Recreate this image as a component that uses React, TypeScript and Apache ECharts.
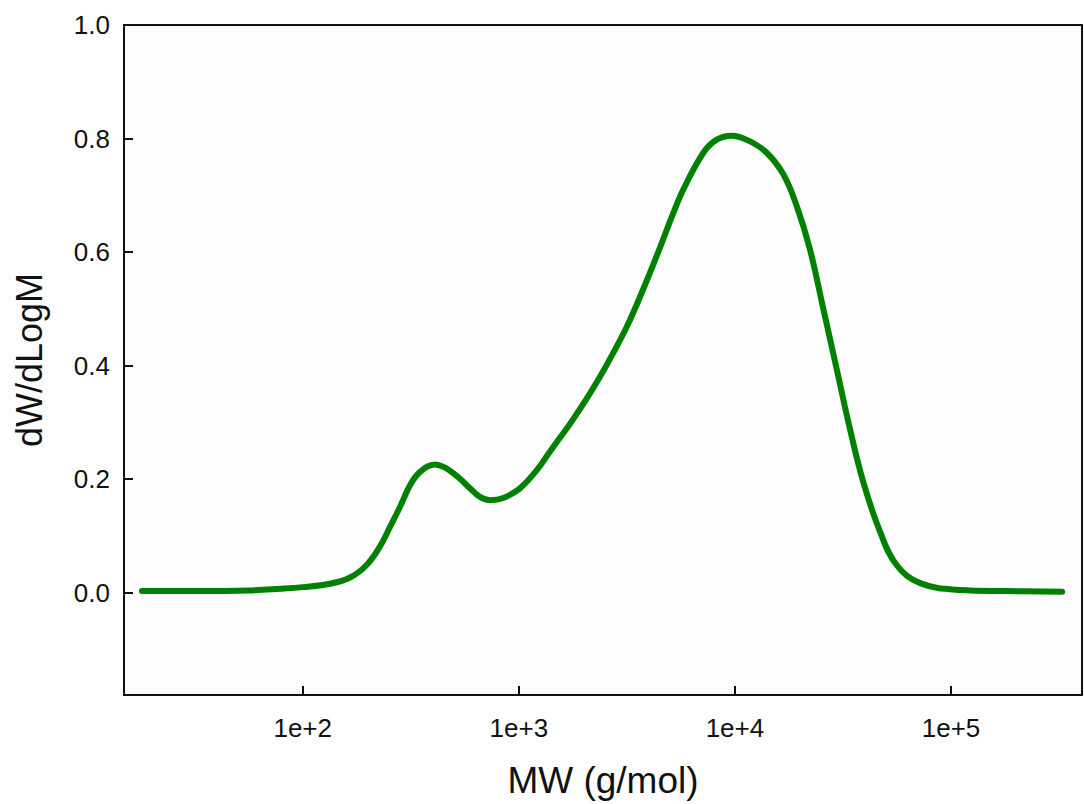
import React, { useEffect, useRef } from "react";
import * as echarts from "echarts";

// log10(MW) sample positions
const logMW: number[] = [
  1.256, 1.5, 1.75, 1.895, 2.0, 2.126, 2.219, 2.296, 2.358, 2.404, 2.45, 2.496,
  2.543, 2.612, 2.65, 2.681, 2.728, 2.774, 2.82, 2.867, 2.928, 3.005, 3.083,
  3.137, 3.19, 3.236, 3.314, 3.37, 3.422, 3.499, 3.576, 3.645, 3.715, 3.761,
  3.854, 3.916, 3.985, 4.07, 4.147, 4.224, 4.286, 4.347, 4.409, 4.471, 4.532,
  4.594, 4.671, 4.748, 4.857, 5.042, 5.25, 5.514,
];
// dW/dLogM values
const dwdlogm: number[] = [
  0.003, 0.003, 0.004, 0.007, 0.01, 0.016, 0.027, 0.049, 0.082, 0.116, 0.151,
  0.189, 0.213, 0.226, 0.222, 0.215, 0.201, 0.184, 0.169, 0.163, 0.167, 0.184,
  0.216, 0.245, 0.273, 0.297, 0.342, 0.377, 0.412, 0.468, 0.535, 0.6, 0.669,
  0.71, 0.775, 0.798, 0.805, 0.795, 0.775, 0.737, 0.681, 0.605, 0.5, 0.394,
  0.289, 0.195, 0.108, 0.049, 0.017, 0.005, 0.003, 0.002,
];

const xTickValues: number[] = [2, 3, 4, 5];
const xTickLabels: string[] = ["1e+2", "1e+3", "1e+4", "1e+5"];
const yTickValues: number[] = [0, 0.2, 0.4, 0.6, 0.8, 1.0];

const FONT = "'Liberation Sans', Arial, sans-serif";

export default function App() {
  const ref = useRef<HTMLDivElement>(null);
  useEffect(() => {
    if (!ref.current) return;
    const chart = echarts.init(ref.current, undefined, { renderer: "svg" });
    const data = logMW.map((x, i) => [x, dwdlogm[i]]);
    chart.setOption({
      animation: false,
      backgroundColor: "#ffffff",
      grid: {
        left: 124,
        top: 25,
        right: 2,
        bottom: 107,
        show: true,
        borderColor: "#111",
        borderWidth: 2,
        backgroundColor: "#fdfdfd",
      },
      xAxis: {
        type: "value",
        min: 1.173,
        max: 5.606,
        name: "MW (g/mol)",
        nameLocation: "middle",
        nameGap: 67,
        nameTextStyle: { fontFamily: FONT, fontSize: 37, color: "#111" },
        axisLine: { show: true, onZero: false, lineStyle: { color: "#111", width: 2 } },
        axisTick: {
          show: true,
          inside: true,
          length: 9,
          customValues: xTickValues,
          lineStyle: { color: "#111", width: 2 },
        },
        axisLabel: {
          customValues: xTickValues,
          margin: 20,
          fontFamily: FONT,
          fontSize: 26,
          color: "#111",
          formatter: (v: number) => {
            const i = xTickValues.indexOf(Math.round(v));
            return i >= 0 ? xTickLabels[i] : "";
          },
        },
        splitLine: { show: false },
      },
      yAxis: {
        type: "value",
        min: -0.18,
        max: 1.0,
        name: "dW/dLogM",
        nameLocation: "middle",
        nameGap: 77,
        nameTextStyle: { fontFamily: FONT, fontSize: 36, color: "#111" },
        axisLine: { show: true, onZero: false, lineStyle: { color: "#111", width: 2 } },
        axisTick: {
          show: true,
          inside: true,
          length: 9,
          customValues: yTickValues,
          lineStyle: { color: "#111", width: 2 },
        },
        axisLabel: {
          customValues: yTickValues,
          margin: 14,
          fontFamily: FONT,
          fontSize: 26,
          color: "#111",
          formatter: (v: number) => v.toFixed(1),
        },
        splitLine: { show: false },
      },
      series: [
        {
          type: "line",
          data,
          smooth: 0.4,
          showSymbol: false,
          symbol: "none",
          lineStyle: { color: "#008000", width: 6, cap: "round", join: "round" },
        },
      ],
    });
    return () => chart.dispose();
  }, []);
  return (
    <div
      ref={ref}
      style={{ position: "fixed", left: 0, top: 0, width: 1084, height: 804 }}
    />
  );
}
